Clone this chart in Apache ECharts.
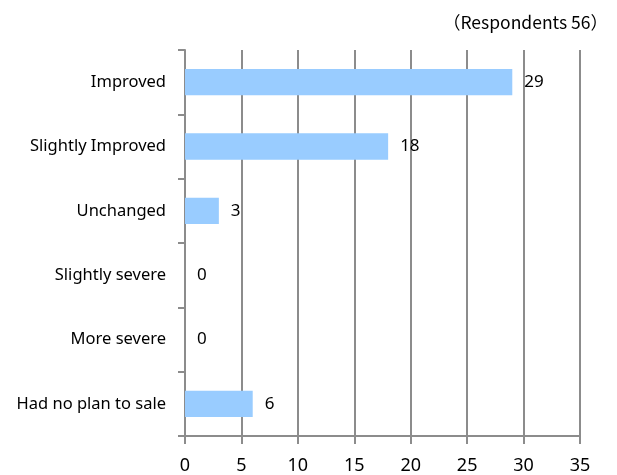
<!DOCTYPE html>
<html>
<head>
<meta charset="utf-8">
<script src="https://cdn.jsdelivr.net/npm/echarts@6/dist/echarts.min.js"></script>
<style>
  html, body { margin: 0; padding: 0; background: #fff; }
  #chart { width: 617px; height: 475px; }
</style>
</head>
<body>
<div id="chart"></div>
<script>
// Survey responses, listed top to bottom
const categories = ['Improved', 'Slightly Improved', 'Unchanged', 'Slightly severe', 'More severe', 'Had no plan to sale'];
const counts = [29, 18, 3, 0, 0, 6];
const axisMax = 35;
const axisStep = 5;
const noteText = '（Respondents 56）';

const chart = echarts.init(document.getElementById('chart'));
const gray = '#8c8c8c';
chart.setOption({
  animation: false,
  title: {
    text: noteText,
    right: 4,
    top: 9,
    textStyle: { fontFamily: '"Noto Sans CJK JP", sans-serif', fontSize: 17.5, fontWeight: 'normal', color: '#000' }
  },
  grid: { left: 185, right: 37, top: 50, bottom: 39, containLabel: false },
  xAxis: {
    type: 'value',
    min: 0,
    max: axisMax,
    interval: axisStep,
    axisLine: { show: true, lineStyle: { color: gray, width: 2 } },
    axisTick: { show: true, length: 8, lineStyle: { color: gray, width: 2 } },
    splitLine: { show: true, lineStyle: { color: gray, width: 2 } },
    axisLabel: { color: '#000', fontSize: 18, fontFamily: '"Noto Sans", sans-serif', margin: 21 }
  },
  yAxis: {
    type: 'category',
    data: categories,
    inverse: true,
    axisLine: { show: true, lineStyle: { color: gray, width: 2 } },
    axisTick: { show: true, length: 7, lineStyle: { color: gray, width: 2 } },
    axisLabel: { color: '#000', fontSize: 16.5, fontFamily: '"Noto Sans", sans-serif', margin: 19 }
  },
  series: [{
    type: 'bar',
    data: counts,
    barWidth: '41%',
    itemStyle: { color: '#99ccff' },
    label: {
      show: true,
      position: 'right',
      distance: 12,
      color: '#000',
      fontSize: 17,
      fontFamily: '"Noto Sans", sans-serif'
    }
  }]
});
</script>
</body>
</html>
